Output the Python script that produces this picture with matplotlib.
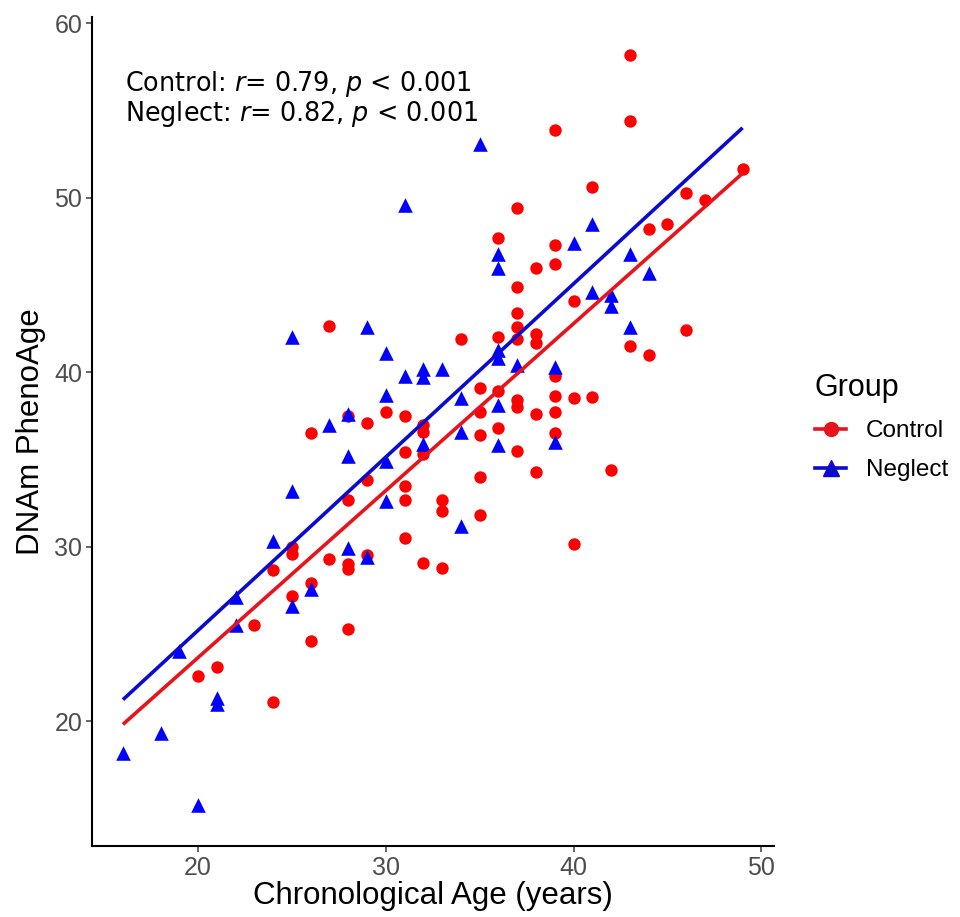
import numpy as np
import matplotlib
matplotlib.use("Agg")
import matplotlib.pyplot as plt
from matplotlib.lines import Line2D

# values
control_age = [43, 43, 39, 49, 41, 37, 46, 47, 44, 45, 36, 39, 39, 38, 37, 40, 37, 37, 37,
               36, 38, 38, 43, 46, 44, 34, 39, 30, 31, 35, 36, 37, 37, 39, 40, 41, 35, 38,
               39, 32, 32, 35, 36, 39, 32, 37, 31, 38, 42, 35, 31, 31, 33, 33, 35, 31, 40,
               32, 33, 27, 29, 26, 29, 28, 25, 25, 27, 28, 28, 29, 24, 26, 25, 23, 28, 26,
               20, 21, 24, 28]
control_pheno = [58.2, 54.4, 53.9, 51.65, 50.6, 49.4, 50.3, 49.9, 48.2, 48.5, 47.7, 47.3, 46.2,
                 46.0, 44.9, 44.1, 43.4, 42.6, 41.9, 42.0, 42.2, 41.65, 41.5, 42.4, 41.0, 41.9,
                 39.8, 37.7, 37.5, 39.1, 38.9, 38.4, 38.0, 38.65, 38.5, 38.6, 37.7, 37.6, 37.7,
                 37.0, 36.6, 36.4, 36.8, 36.5, 35.3, 35.5, 35.4, 34.3, 34.4, 34.0, 33.5, 32.7,
                 32.7, 32.05, 31.8, 30.5, 30.15, 29.05, 28.8, 42.65, 37.1, 36.5, 33.8, 32.7,
                 30.0, 29.6, 29.3, 29.0, 28.7, 29.5, 28.65, 27.9, 27.2, 25.5, 25.3, 24.6,
                 22.6, 23.1, 21.1, 37.5]

neglect_age = [35, 31, 41, 36, 36, 40, 43, 44, 41, 42, 42, 43, 37, 39, 30, 31, 32, 32, 33,
               30, 34, 36, 36, 36, 34, 39, 32, 36, 30, 30, 34, 25, 29, 28, 27, 28, 25, 24,
               28, 29, 22, 19, 26, 25, 22, 21, 21, 18, 16, 20]
neglect_pheno = [53.1, 49.6, 48.5, 46.8, 46.0, 47.4, 46.8, 45.7, 44.6, 44.4, 43.8, 42.6, 40.4,
                 40.3, 41.1, 39.8, 40.2, 39.7, 40.2, 38.7, 38.5, 38.1, 41.3, 40.8, 36.6, 36.0,
                 35.9, 35.8, 34.9, 32.6, 31.2, 42.0, 42.6, 37.6, 37.0, 35.2, 33.2, 30.3, 29.9,
                 29.4, 27.1, 24.0, 27.6, 26.6, 25.5, 21.3, 21.0, 19.3, 18.2, 15.2]

groups = ["Control", "Neglect"]
stats_text = [r"Control: $r$= 0.79, $p$ < 0.001", r"Neglect: $r$= 0.82, $p$ < 0.001"]

plt.rcParams['font.family'] = ['Liberation Sans', 'DejaVu Sans']
plt.rcParams['mathtext.fontset'] = 'dejavusans'

fig = plt.figure(figsize=(9.6, 9.17), dpi=100)
ax = fig.add_axes([0.0958, 0.0774, 0.710, 0.904])

ax.scatter(control_age, control_pheno, s=80, c='#FF0000', marker='o', linewidths=0, zorder=2)
ax.scatter(neglect_age, neglect_pheno, s=110, c='#0000FF', marker='^', linewidths=0, zorder=3)

# linear fits, drawn over the full age range like the original
all_age = np.array(control_age + neglect_age)
xx = np.array([all_age.min(), all_age.max()])
for xs, ys, col in [(control_age, control_pheno, '#E8141C'), (neglect_age, neglect_pheno, '#0A0AD0')]:
    k, b = np.polyfit(xs, ys, 1)
    ax.plot(xx, k * xx + b, color=col, lw=2.6, zorder=4, solid_capstyle='butt')

for i, t in enumerate(stats_text):
    ax.text(16.1, 56.5 - 1.72 * i, t, fontsize=18.4, family='DejaVu Sans', va='center', ha='left',
            color='black')

ax.set_xlim(14.35, 50.65)
ax.set_ylim(12.84, 60.36)
ax.set_xticks([20, 30, 40, 50])
ax.set_yticks([20, 30, 40, 50, 60])
ax.tick_params(labelsize=18, colors='#4D4D4D', length=4, width=1.2, labelcolor='#4D4D4D', pad=3)
for s in ['top', 'right']:
    ax.spines[s].set_visible(False)
for s in ['left', 'bottom']:
    ax.spines[s].set_linewidth(1.5)
    ax.spines[s].set_color('black')

ax.set_xlabel("Chronological Age (years)", fontsize=22.5, labelpad=1)
ax.set_ylabel("DNAm PhenoAge", fontsize=22.5, labelpad=6)

handles = [Line2D([], [], color='#E8141C', lw=2.6, marker='o', markersize=10),
           Line2D([], [], color='#0A0AD0', lw=2.6, marker='^', markersize=11)]
leg = fig.legend(handles, groups, title="Group", loc='upper left', bbox_to_anchor=(0.826, 0.617),
                 frameon=False, fontsize=17.5, title_fontsize=22, handlelength=1.3,
                 handletextpad=0.8, labelspacing=0.7, alignment='left')

fig.savefig("out.png", dpi=100)
